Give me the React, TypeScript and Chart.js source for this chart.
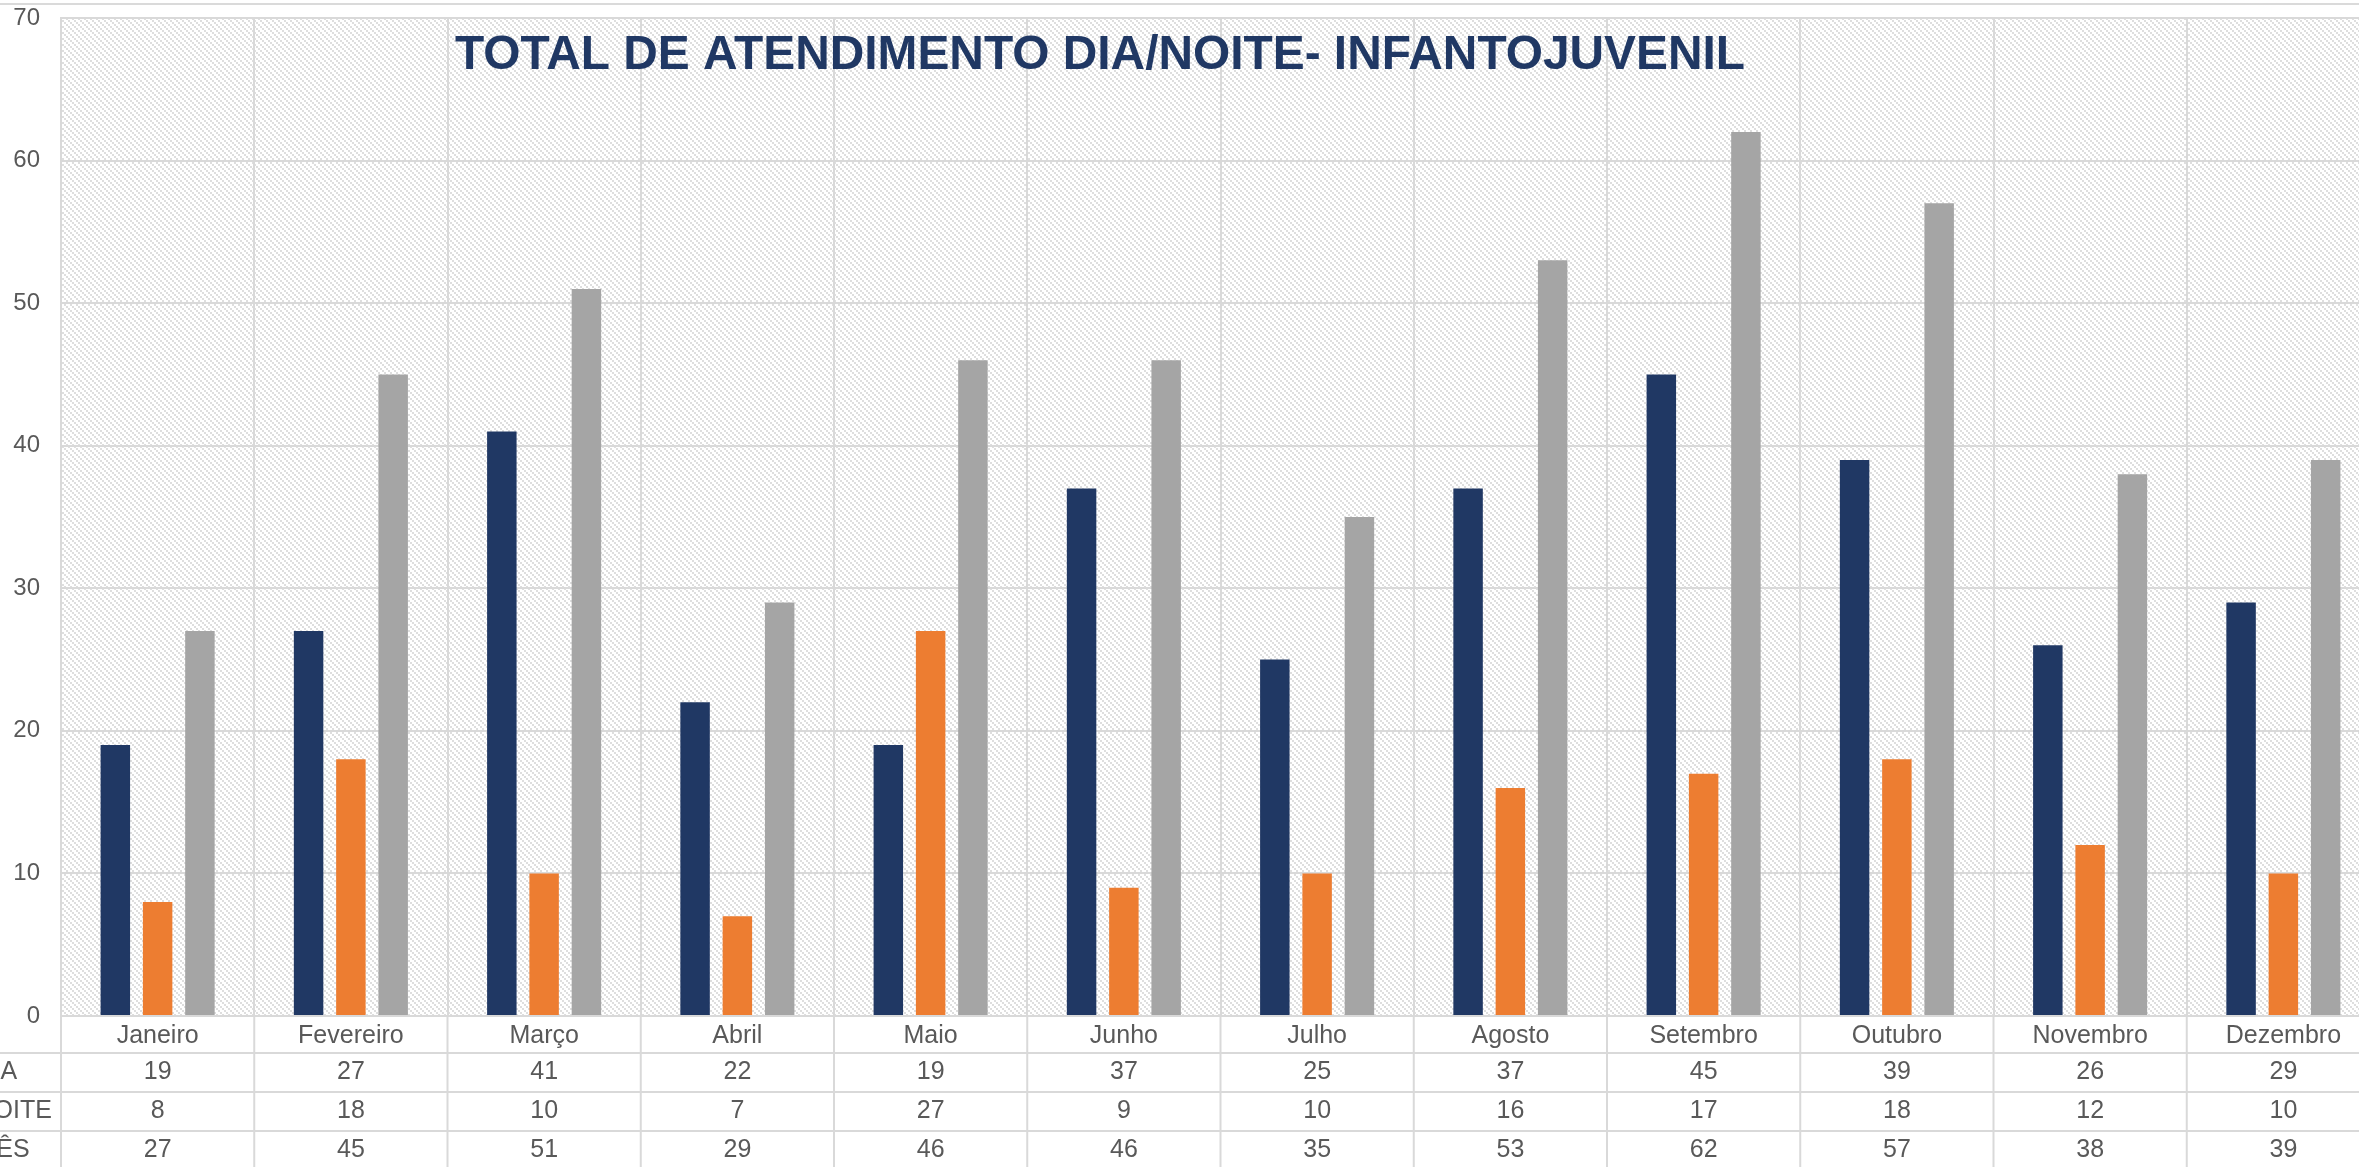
import React, { useEffect, useRef } from 'react';
import { Chart, registerables } from 'chart.js';

Chart.register(...registerables);

const chartTitle = 'TOTAL DE ATENDIMENTO DIA/NOITE- INFANTOJUVENIL';
const categories = ['Janeiro', 'Fevereiro', 'Março', 'Abril', 'Maio', 'Junho', 'Julho', 'Agosto', 'Setembro', 'Outubro', 'Novembro', 'Dezembro'];
const seriesNames = ['DIA', 'NOITE', 'MÊS'];
const diaValues = [19, 27, 41, 22, 19, 37, 25, 37, 45, 39, 26, 29];
const noiteValues = [8, 18, 10, 7, 27, 9, 10, 16, 17, 18, 12, 10];
const mesValues = [27, 45, 51, 29, 46, 46, 35, 53, 62, 57, 38, 39];
const seriesColors = ['#203864', '#ED7D31', '#A5A5A5'];
const yMin = 0;
const yMax = 70;
const yStep = 10;

const W = 2420;
const H = 1180;
const FONT = '"Liberation Sans", Arial, sans-serif';
const TEXT = '#595959';
const GRID = '#D9D9D9';

const bgPlugin = {
  id: 'bgPattern',
  beforeDraw(chart: any) {
    const { ctx, chartArea: a } = chart;
    ctx.save();
    ctx.fillStyle = '#ffffff';
    ctx.fillRect(0, 0, chart.width, chart.height);
    ctx.fillStyle = '#DADADA';
    ctx.fillRect(0, 3, chart.width, 2);
    const tile = document.createElement('canvas');
    tile.width = 6;
    tile.height = 6;
    const t = tile.getContext('2d')!;
    t.fillStyle = '#ffffff';
    t.fillRect(0, 0, 6, 6);
    t.fillStyle = '#DEDEDE';
    for (let i = 0; i < 3; i++) t.fillRect(i * 2, i * 2, 2, 2);
    const pat = ctx.createPattern(tile, 'repeat');
    if (pat) {
      ctx.fillStyle = pat;
      ctx.fillRect(a.left, a.top, a.right - a.left, a.bottom - a.top);
    }
    ctx.restore();
  },
};

const tablePlugin = {
  id: 'dataTable',
  afterDraw(chart: any) {
    const { ctx, chartArea: a } = chart;
    const x = chart.scales.x;
    const headerH = 37;
    const rowH = 39;
    const rows = [
      { name: seriesNames[0], data: diaValues },
      { name: seriesNames[1], data: noiteValues },
      { name: seriesNames[2], data: mesValues },
    ];
    ctx.save();
    ctx.strokeStyle = GRID;
    ctx.lineWidth = 2;
    for (let r = 0; r <= rows.length; r++) {
      const y = a.bottom + headerH + r * rowH;
      ctx.beginPath();
      ctx.moveTo(0, y);
      ctx.lineTo(a.right, y);
      ctx.stroke();
    }
    const half = (x.getPixelForValue(1) - x.getPixelForValue(0)) / 2;
    for (let i = 0; i <= categories.length; i++) {
      const px = i === 0 ? a.left : x.getPixelForValue(i - 1) + half;
      ctx.beginPath();
      ctx.moveTo(px, a.bottom);
      ctx.lineTo(px, chart.height);
      ctx.stroke();
    }
    ctx.fillStyle = TEXT;
    ctx.font = `25px ${FONT}`;
    ctx.textBaseline = 'middle';
    rows.forEach((row, r) => {
      const cy = a.bottom + headerH + r * rowH + rowH / 2;
      ctx.textAlign = 'left';
      ctx.fillText(row.name, -24.5, cy);
      ctx.textAlign = 'center';
      row.data.forEach((v, i) => ctx.fillText(String(v), x.getPixelForValue(i), cy));
    });

    // title
    ctx.font = `bold 49px ${FONT}`;
    ctx.fillStyle = '#203864';
    ctx.textAlign = 'left';
    ctx.textBaseline = 'alphabetic';
    const targetW = 1290;
    const mw = ctx.measureText(chartTitle).width;
    const sx = targetW / mw;
    ctx.translate(455, 69);
    ctx.scale(sx, 1);
    ctx.fillText(chartTitle, 0, 0);
    ctx.restore();
  },
};

export default function App() {
  const ref = useRef<HTMLCanvasElement | null>(null);

  useEffect(() => {
    if (!ref.current) return;
    const chart = new Chart(ref.current, {
      type: 'bar',
      data: {
        labels: categories,
        datasets: [
          { label: seriesNames[0], data: diaValues, backgroundColor: seriesColors[0] },
          { label: seriesNames[1], data: noiteValues, backgroundColor: seriesColors[1] },
          { label: seriesNames[2], data: mesValues, backgroundColor: seriesColors[2] },
        ],
      },
      options: {
        responsive: false,
        animation: false,
        devicePixelRatio: 1,
        layout: { padding: { left: 0, top: 18, right: 40, bottom: 0 } },
        datasets: {
          bar: { categoryPercentage: 0.6565, barPercentage: 0.697 },
        },
        plugins: {
          legend: { display: false },
          tooltip: { enabled: false },
          title: { display: false },
        },
        scales: {
          x: {
            offset: true,
            grid: { color: GRID, lineWidth: 2, offset: true, drawTicks: false },
            border: { color: GRID, width: 2 },
            ticks: {
              color: TEXT,
              font: { size: 25, family: FONT },
              padding: 5,
              maxRotation: 0,
              autoSkip: false,
            },
            afterFit: (scale: any) => {
              scale.height = H - 1016;
            },
          },
          y: {
            min: yMin,
            max: yMax,
            ticks: {
              stepSize: yStep,
              color: TEXT,
              font: { size: 24, family: FONT },
              padding: 0,
            },
            grid: { color: GRID, lineWidth: 2, drawTicks: true, tickLength: 21, tickColor: 'rgba(0,0,0,0)' },
            border: { color: GRID, width: 2 },
            afterFit: (scale: any) => {
              scale.width = 61;
            },
          },
        },
      },
      plugins: [bgPlugin, tablePlugin],
    });
    return () => chart.destroy();
  }, []);

  return (
    <div style={{ position: 'fixed', left: 0, top: 0, width: W, height: H }}>
      <canvas ref={ref} width={W} height={H} style={{ width: W, height: H, display: 'block' }} />
    </div>
  );
}
